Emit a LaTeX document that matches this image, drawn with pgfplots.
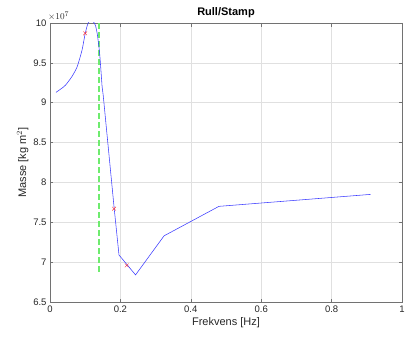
\documentclass[border=0pt]{standalone}
\usepackage{fontspec}
\setmainfont{Liberation Sans}
\usepackage{pgfplots}
\pgfplotsset{compat=1.18}
\definecolor{axgray}{rgb}{0.15,0.15,0.15}
\definecolor{gridgray}{rgb}{0.88,0.88,0.88}
\definecolor{lblue}{RGB}{60,60,255}
\definecolor{mygreen}{RGB}{110,235,110}
\begin{document}
\begin{tikzpicture}[x=1pt,y=1pt]
\begin{axis}[
  name=ax,
  at={(50pt,41pt)}, anchor=south west,
  scale only axis, width=352pt, height=279pt,
  xmin=0, xmax=1, ymin=6.5, ymax=10,
  xtick={0,0.2,0.4,0.6,0.8,1},
  ytick={6.5,7,7.5,8,8.5,9,9.5,10},
  xticklabels={0,0.2,0.4,0.6,0.8,1},
  yticklabels={6.5,7,7.5,8,8.5,9,9.5,10},
  tick align=inside, tick pos=both,
  major tick length=3.5pt,
  grid=major, grid style={gridgray, line width=0.5pt},
  axis line style={axgray!65, line width=0.7pt},
  every tick/.style={axgray!65, line width=0.6pt},
  tick label style={font=\fontsize{9.5}{11}\selectfont, text=axgray},
  /pgf/number format/assume math mode=true,
  xlabel={Frekvens [Hz]},
  ylabel={Masse [kg m$^2$]},
  label style={font=\fontsize{11}{13}\selectfont, text=axgray},
  xlabel style={yshift=2pt},
  ylabel style={yshift=-2pt},
  title={\textbf{Rull/Stamp}},
  title style={font=\fontsize{11}{13}\selectfont, yshift=-4pt},
  clip=true,
]
\addplot[mygreen, mark=none, line width=1.6pt, dash pattern=on 6pt off 3pt] coordinates {
(0.14,10) (0.14,6.84)
};
\addplot[lblue, line width=0.55pt, smooth, tension=0.4] coordinates {
(0.017,9.13) (0.03,9.17) (0.044,9.22) (0.0625,9.33) (0.077,9.45)
(0.091,9.66) (0.100,9.87) (0.106,9.97) (0.110,10.01) (0.117,10.04)
(0.124,10.01) (0.129,9.97) (0.134,9.87) (0.141,9.62) (0.148,9.20)
};
\addplot[lblue, line width=0.55pt] coordinates {
(0.148,9.20) (0.151,9.10) (0.182,7.69) (0.196,7.09) (0.243,6.84) (0.324,7.33)
(0.48,7.70) (0.911,7.85)
};
\addplot[only marks, mark=x, red!80, mark size=2.6pt, line width=0.45pt] coordinates {
(0.100,9.87) (0.182,7.67) (0.218,6.96)
};
\end{axis}
\node[anchor=south west, font=\fontsize{9.5}{11}\selectfont, text=axgray, inner sep=0pt] at ([xshift=-2pt,yshift=2pt]ax.north west) {$\times10^{7}$};
\pgfresetboundingbox
\path[use as bounding box] (0,0) rectangle (406pt,343pt);
\end{tikzpicture}
\end{document}
